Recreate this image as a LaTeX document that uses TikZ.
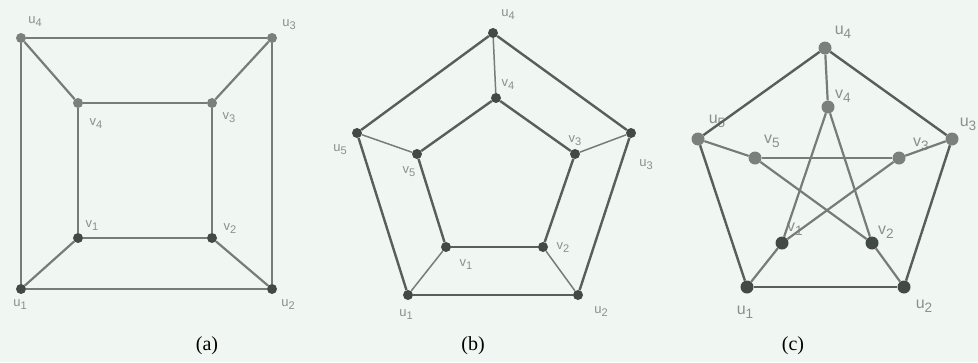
\documentclass[tikz,border=0pt]{standalone}
\usepackage{fontspec}
\setmainfont{Liberation Serif}
\setsansfont{Liberation Sans}
\definecolor{bgmint}{RGB}{240,247,242}
\definecolor{dotdark}{RGB}{66,74,68}
\definecolor{dotgray}{RGB}{124,128,125}
\definecolor{edgegray}{RGB}{120,124,121}
\definecolor{edgedark}{RGB}{88,94,90}
\definecolor{lblgray}{RGB}{140,143,141}
\newcommand{\vname}[2]{#1\raisebox{-0.45ex}{\scalebox{0.85}{#2}}}

\begin{document}
\begin{tikzpicture}[x=1pt,y=-1pt,
    dot/.style={circle,inner sep=0pt,minimum size=10pt},
    bigdot/.style={dot,minimum size=13pt},
    lbl/.style={font=\sffamily\fontsize{13}{13}\selectfont,text=lblgray,inner sep=0pt},
    biglbl/.style={lbl,font=\sffamily\fontsize{16}{16}\selectfont},
    caption/.style={font=\fontsize{20}{20}\selectfont,inner sep=0pt},
    edge/.style={draw=edgegray,line width=2.2pt},
    thinedge/.style={draw=edgegray,line width=1.5pt},
    darkedge/.style={draw=edgedark,line width=2.4pt}]
    \useasboundingbox[fill=bgmint] (0,0) rectangle (978,362);

    % (a) cube
    \foreach \v/\i/\x/\y/\lx/\ly/\c in {u/1/21/289/20/305/dotdark,u/2/272/289/288/305/dotdark,
            u/3/272/38/289/25/dotgray,u/4/21/38/35/22/dotgray,v/1/78/238/92/226/dotdark,
            v/2/212/238/230/229/dotdark,v/3/212/103/229/118/dotgray,v/4/78/103/96/124/dotgray}{
        \node[dot,fill=\c] (a\v\i) at (\x,\y) {};
        \node[lbl] (a\v\i-l) at (\lx,\ly) {\vname{\v}{\i}};
    }
    \foreach \p/\q in {u1/u2,u2/u3,u3/u4,u4/u1,v1/v2,v2/v3,v3/v4,v4/v1,u1/v1,u2/v2,u3/v3,u4/v4}
        \draw[edge] (a\p) -- (a\q);
    \node[caption] (capa) at (207,346) {(a)};

    % (b) prism
    \foreach \v/\i/\x/\y/\lx/\ly in {u/1/408/295/406/315,u/2/578/295/601/312,u/3/631/133/646/165,
            u/4/493/33/508/15,u/5/357/133/340/150,v/1/446/247/466/265,v/2/543/247/563/248,
            v/3/575/154/575/141,v/4/496/98/508/85,v/5/417/154/409/172}{
        \node[dot,fill=dotdark] (b\v\i) at (\x,\y) {};
        \node[lbl] (b\v\i-l) at (\lx,\ly) {\vname{\v}{\i}};
    }
    \foreach \p/\q in {u1/u2,u2/u3,u3/u4,u4/u5,u5/u1,v1/v2,v2/v3,v3/v4,v4/v5,v5/v1}
        \draw[darkedge] (b\p) -- (b\q);
    \foreach \p/\q in {u1/v1,u2/v2,u3/v3,u4/v4,u5/v5}
        \draw[thinedge] (b\p) -- (b\q);
    \node[caption] (capb) at (473,346) {(b)};

    % (c) petersen
    \foreach \v/\i/\x/\y/\lx/\ly/\c in {u/1/747/287/745/312/dotdark,u/2/904/287/924/306/dotdark,
            u/3/952/139/968/124/dotgray,u/4/825/48/843/32/dotgray,u/5/698/139/717/121/dotgray,
            v/1/782/243/795/229/dotdark,v/2/872/243/886/232/dotdark,v/3/899/158/921/144/dotgray,
            v/4/828/107/843/96/dotgray,v/5/755/158/772/141/dotgray}{
        \node[bigdot,fill=\c] (c\v\i) at (\x,\y) {};
        \node[biglbl] (c\v\i-l) at (\lx,\ly) {\vname{\v}{\i}};
    }
    \foreach \p/\q in {u1/u2,u2/u3,u3/u4,u4/u5,u5/u1}
        \draw[darkedge] (c\p) -- (c\q);
    \foreach \p/\q in {u1/v1,u2/v2,u3/v3,u4/v4,u5/v5,v1/v3,v3/v5,v5/v2,v2/v4,v4/v1}
        \draw[edge] (c\p) -- (c\q);
    \node[caption] (capc) at (793,346) {(c)};
\end{tikzpicture}
\end{document}
